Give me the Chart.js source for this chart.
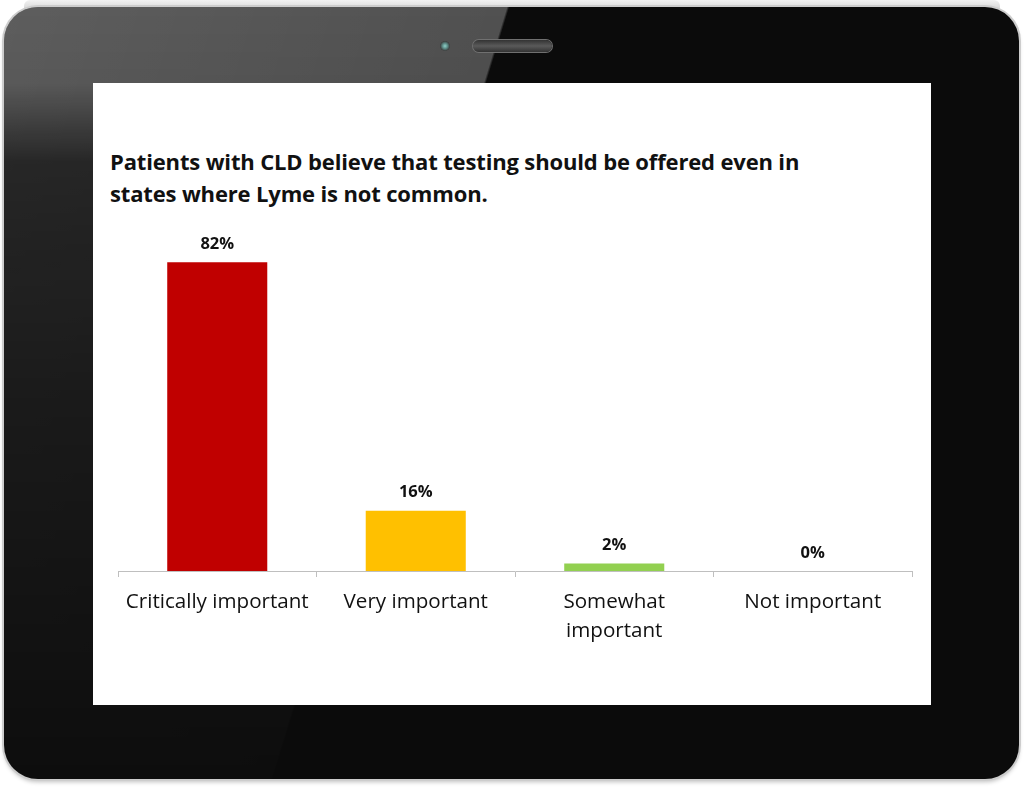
<!DOCTYPE html>
<html>
<head>
<meta charset="utf-8">
<script src="https://cdn.jsdelivr.net/npm/chart.js@4.4.1/dist/chart.umd.min.js"></script>
<style>
    html, body { margin: 0; padding: 0; background: #fff; width: 1024px; height: 789px; overflow: hidden; }
    /* silver back edge peeking out at the top */
    #backEdge { position: absolute; left: 24px; top: 0; width: 976px; height: 12px; background: linear-gradient(#f2f2f2, #cfcfcf); border-radius: 6px 6px 0 0; }
    #tablet { position: absolute; left: 4px; top: 7px; width: 1015px; height: 772px; border-radius: 34px; background: #0b0b0b;
              box-shadow: 0 0 0 2px #cdcdcd, 0 3px 4px rgba(0,0,0,.25); overflow: hidden; }
    #glare { position: absolute; left: 0; top: 0; width: 100%; height: 100%;
             background: linear-gradient(107deg, rgba(255,255,255,.34) 0%, rgba(255,255,255,.29) 40.2%, rgba(255,255,255,0) 40.4%);
             -webkit-mask-image: linear-gradient(to bottom, #000 0%, rgba(0,0,0,.95) 10%, rgba(0,0,0,.35) 20%, rgba(0,0,0,.2) 50%, rgba(0,0,0,.04) 100%);
             mask-image: linear-gradient(to bottom, #000 0%, rgba(0,0,0,.95) 10%, rgba(0,0,0,.35) 20%, rgba(0,0,0,.2) 50%, rgba(0,0,0,.04) 100%); }
    #camera { position: absolute; left: 436px; top: 34px; width: 10px; height: 10px; border-radius: 50%;
              background: radial-gradient(circle, #8fd0c8 0%, #5f8f8a 35%, #3a3a3a 70%, #777 100%); }
    #speaker { position: absolute; left: 469px; top: 33px; width: 79px; height: 12px; border-radius: 6px;
               background: linear-gradient(#333, #5a5a5a 50%, #333); box-shadow: 0 0 0 1px #707070; }
    #screen { position: absolute; left: 93px; top: 83px; width: 838px; height: 622px; background: #fff; }
    #title { position: absolute; left: 110px; top: 145px; font-family: 'Open Sans', Lato, sans-serif; font-weight: 700;
             font-size: 22px; line-height: 32px; color: #111; white-space: nowrap; letter-spacing: -0.15px; }
    #chartBox { position: absolute; left: 93px; top: 210px; width: 838px; height: 495px; }
</style>
</head>
<body>
<div id="backEdge"></div>
<div id="tablet">
    <div id="glare"></div>
    <div id="camera"></div>
    <div id="speaker"></div>
</div>
<div id="screen"></div>
<div id="title">Patients with CLD believe that testing should be offered even in<br>states where Lyme is not common.</div>
<div id="chartBox"><canvas id="importanceChart" width="838" height="495"></canvas></div>

<script>
// --- data ---
const categories = ['Critically important', 'Very important', ['Somewhat', 'important'], 'Not important'];
const percentValues = [82, 16, 2, 0];
const barColors = ['#C00000', '#FFC000', '#92D050', '#A6A6A6'];

const FONT = "'Open Sans', Lato, sans-serif";

// value labels above each bar ("82%", ...)
const valueLabels = {
    id: 'valueLabels',
    afterDatasetsDraw(chart) {
        const ctx = chart.ctx;
        const meta = chart.getDatasetMeta(0);
        ctx.save();
        ctx.font = 'bold 16.5px ' + FONT;
        ctx.fillStyle = '#111';
        ctx.textAlign = 'center';
        ctx.textBaseline = 'middle';
        meta.data.forEach((bar, i) => {
            ctx.fillText(percentValues[i] + '%', bar.x, bar.y - 18);
        });
        ctx.restore();
    }
};

const ctx = document.getElementById('importanceChart').getContext('2d');
new Chart(ctx, {
    type: 'bar',
    data: {
        labels: categories,
        datasets: [{
            data: percentValues,
            backgroundColor: barColors,
            borderWidth: 0,
            categoryPercentage: 1,
            barPercentage: 0.504
        }]
    },
    options: {
        responsive: false,
        animation: false,
        devicePixelRatio: 1,
        layout: { padding: { left: 25, right: 19, top: 22, bottom: 0 } },
        plugins: {
            legend: { display: false },
            tooltip: { enabled: false }
        },
        scales: {
            y: { display: false, min: 0, max: 90 },
            x: {
                grid: { drawOnChartArea: false, drawTicks: true, tickLength: 6, color: '#bfbfbf', offset: true },
                border: { color: '#bfbfbf' },
                ticks: {
                    color: '#111',
                    padding: 10,
                    maxRotation: 0,
                    autoSkip: false,
                    font: { family: FONT, size: 20.6, lineHeight: 1.42 }
                },
                afterFit(scale) { scale.height = 134; }
            }
        }
    },
    plugins: [valueLabels]
});
</script>
</body>
</html>
